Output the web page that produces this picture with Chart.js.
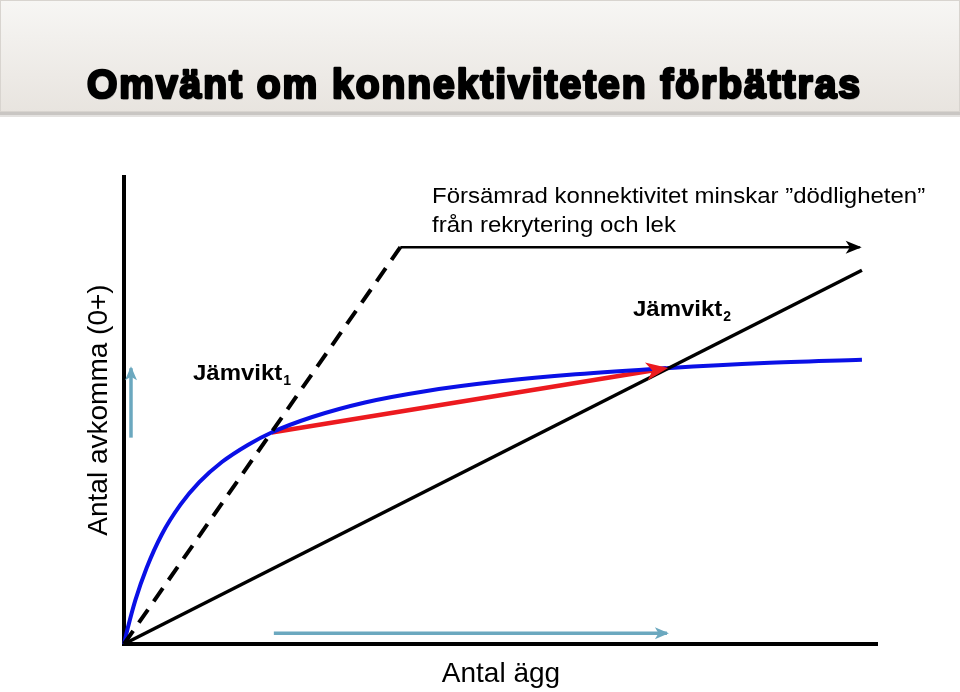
<!DOCTYPE html>
<html>
<head>
<meta charset="utf-8">
<script src="https://cdn.jsdelivr.net/npm/chart.js@4.4.1/dist/chart.umd.min.js"></script>
<style>
  body { margin: 0; background: #fff; }
  canvas { display: block; }
</style>
</head>
<body>
<canvas id="myChart" width="960" height="692"></canvas>
<script>
'use strict';

// DATA (x = antal ägg, y = antal avkomma, both on a 0-100 scale)

let curveX = [0, 0.5, 1.5, 3, 5, 7.5, 10, 13, 16.5, 19.6, 25, 32, 40, 50, 60, 72, 85, 98];
let curveY = [0, 3.4, 9.3, 16.2, 23.3, 29.7, 34.5, 38.8, 42.5, 45.1, 48.4, 51.5, 53.9, 56.0, 57.5, 58.8, 59.9, 60.6];

let solidLineX = [0, 98.0];
let solidLineY = [0, 79.7];

let dashedLineX = [0, 36.7];
let dashedLineY = [0, 84.6];

let shiftArrowX = [36.7, 97.7];
let shiftArrowY = [84.6, 84.6];

let redArrowX = [19.6, 72.0];
let redArrowY = [45.1, 58.8];

let upArrowX = [0.93, 0.93];
let upArrowY = [44.0, 58.8];

let rightArrowX = [19.9, 72.1];
let rightArrowY = [2.3, 2.3];

let titleText = 'Omvänt om konnektiviteten förbättras';
let xTitle = 'Antal ägg';
let yTitle = 'Antal avkomma (0+)';
let noteLines = ['Försämrad konnektivitet minskar ”dödligheten”', 'från rekrytering och lek'];

// HELPERS

function toPoints(xs, ys) {
  let pts = [];
  for (let i = 0; i < xs.length; i++) {
    pts.push({ x: xs[i], y: ys[i] });
  }
  return pts;
}

function lineSet(xs, ys, color, width, extra) {
  let ds = {
    data: toPoints(xs, ys),
    borderColor: color,
    backgroundColor: color,
    borderWidth: width,
    showLine: true,
    pointRadius: 0,
    pointHoverRadius: 0,
    clip: false,
    fill: false
  };
  return Object.assign(ds, extra || {});
}

// text drawn slightly wider, like the original slide font
function wideText(ctx, text, x, y, sx) {
  ctx.save();
  ctx.translate(x, y);
  ctx.scale(sx, 1);
  ctx.fillText(text, 0, 0);
  let w = ctx.measureText(text).width * sx;
  ctx.restore();
  return w;
}

// PLUGINS

// slide background and title bar
let slidePlugin = {
  id: 'slide',
  beforeDraw(chart) {
    let ctx = chart.ctx;
    ctx.save();
    ctx.fillStyle = '#ffffff';
    ctx.fillRect(0, 0, chart.width, chart.height);

    // shadow under the title bar
    ctx.fillStyle = '#c9c6c3';
    ctx.fillRect(0, 112, chart.width, 3);
    ctx.fillStyle = '#e4e2e0';
    ctx.fillRect(0, 115, chart.width, 2);

    let grad = ctx.createLinearGradient(0, 0, 0, 112);
    grad.addColorStop(0, '#f7f6f4');
    grad.addColorStop(1, '#e8e4df');
    ctx.fillStyle = grad;
    ctx.fillRect(0, 0, chart.width, 112);
    ctx.strokeStyle = '#d8d4cf';
    ctx.lineWidth = 1;
    ctx.strokeRect(0.5, 0.5, chart.width - 1, 111);

    // title, heavy
    ctx.font = 'bold 40px "Liberation Sans", Arial, sans-serif';
    ctx.letterSpacing = '2px';
    ctx.textBaseline = 'alphabetic';
    let w = ctx.measureText(titleText).width;
    ctx.translate(87, 97.5);
    ctx.scale(775 / w, 1);
    ctx.lineJoin = 'round';
    ctx.fillStyle = 'rgba(90,90,90,0.3)';
    ctx.fillText(titleText, 1, 2);
    ctx.strokeStyle = '#000';
    ctx.lineWidth = 2.6;
    ctx.strokeText(titleText, 0, 0);
    ctx.fillStyle = '#000';
    ctx.fillText(titleText, 0, 0);
    ctx.restore();
  }
};

// the two black axes
let axesPlugin = {
  id: 'axes',
  beforeDatasetsDraw(chart) {
    let ctx = chart.ctx;
    let a = chart.chartArea;
    ctx.save();
    ctx.strokeStyle = '#000';
    ctx.lineWidth = 4;
    ctx.lineCap = 'butt';
    ctx.beginPath();
    ctx.moveTo(a.left, 175);
    ctx.lineTo(a.left, a.bottom + 2);
    ctx.moveTo(a.left - 2, a.bottom);
    ctx.lineTo(878, a.bottom);
    ctx.stroke();
    ctx.restore();
  }
};

// arrow heads at the end of the datasets that ask for one
let arrowPlugin = {
  id: 'arrows',
  afterDatasetsDraw(chart) {
    let ctx = chart.ctx;
    chart.data.datasets.forEach(function(ds, i) {
      if (!ds.arrowHead) {
        return;
      }
      let pts = chart.getDatasetMeta(i).data;
      let p1 = pts[pts.length - 2];
      let p2 = pts[pts.length - 1];
      let ang = Math.atan2(p2.y - p1.y, p2.x - p1.x);
      let len = ds.arrowHead.len;
      let half = ds.arrowHead.half;
      ctx.save();
      ctx.translate(p2.x, p2.y);
      ctx.rotate(ang);
      ctx.fillStyle = ds.borderColor;
      ctx.beginPath();
      ctx.moveTo(2, 0);
      ctx.lineTo(-len, -half);
      ctx.lineTo(-len * 0.7, 0);
      ctx.lineTo(-len, half);
      ctx.closePath();
      ctx.fill();
      ctx.restore();
    });
  }
};

// axis titles and text labels
let textPlugin = {
  id: 'texts',
  afterDraw(chart) {
    let ctx = chart.ctx;
    ctx.save();
    ctx.fillStyle = '#000';

    ctx.font = '28px "Liberation Sans", Arial, sans-serif';
    ctx.textAlign = 'center';
    ctx.textBaseline = 'alphabetic';
    ctx.fillText(xTitle, 501, 682);

    ctx.save();
    ctx.translate(107, 410);
    ctx.rotate(-Math.PI / 2);
    ctx.fillText(yTitle, 0, 0);
    ctx.restore();

    ctx.textAlign = 'left';
    ctx.font = '22px "Liberation Sans", Arial, sans-serif';
    wideText(ctx, noteLines[0], 432, 203, 1.09);
    wideText(ctx, noteLines[1], 432, 232, 1.09);

    drawSubLabel(ctx, 'Jämvikt', '1', 193, 380);
    drawSubLabel(ctx, 'Jämvikt', '2', 633, 316);
    ctx.restore();
  }
};

function drawSubLabel(ctx, main, sub, x, y) {
  ctx.font = 'bold 22px "Liberation Sans", Arial, sans-serif';
  ctx.textAlign = 'left';
  let w = wideText(ctx, main, x, y, 1.09);
  ctx.font = 'bold 14px "Liberation Sans", Arial, sans-serif';
  wideText(ctx, sub, x + w + 1, y + 5, 1.0);
}

// CHART

const data = {
  datasets: [
    lineSet(solidLineX, solidLineY, '#000000', 3.5),
    lineSet(dashedLineX, dashedLineY, '#000000', 4, { borderDash: [16, 10] }),
    lineSet(shiftArrowX, shiftArrowY, '#000000', 2.5, { arrowHead: { len: 14, half: 6.5 } }),
    lineSet(upArrowX, upArrowY, '#6ba8bf', 3.5, { arrowHead: { len: 12, half: 6 } }),
    lineSet(rightArrowX, rightArrowY, '#6ba8bf', 3.5, { arrowHead: { len: 12, half: 6 } }),
    lineSet(curveX, curveY, '#0a10e6', 4, { cubicInterpolationMode: 'monotone' }),
    lineSet(redArrowX, redArrowY, '#ec1a1f', 4.5, { arrowHead: { len: 20, half: 9 } })
  ]
};

const config = {
  type: 'scatter',
  data: data,
  options: {
    responsive: false,
    animation: false,
    layout: {
      padding: { left: 124, right: 83, top: 175, bottom: 48 }
    },
    plugins: {
      legend: { display: false },
      tooltip: { enabled: false }
    },
    scales: {
      x: { type: 'linear', min: 0, max: 100, display: false },
      y: { type: 'linear', min: 0, max: 100, display: false }
    }
  },
  plugins: [slidePlugin, axesPlugin, arrowPlugin, textPlugin]
};

let canvas = document.getElementById('myChart').getContext('2d');
new Chart(canvas, config);
</script>
</body>
</html>
